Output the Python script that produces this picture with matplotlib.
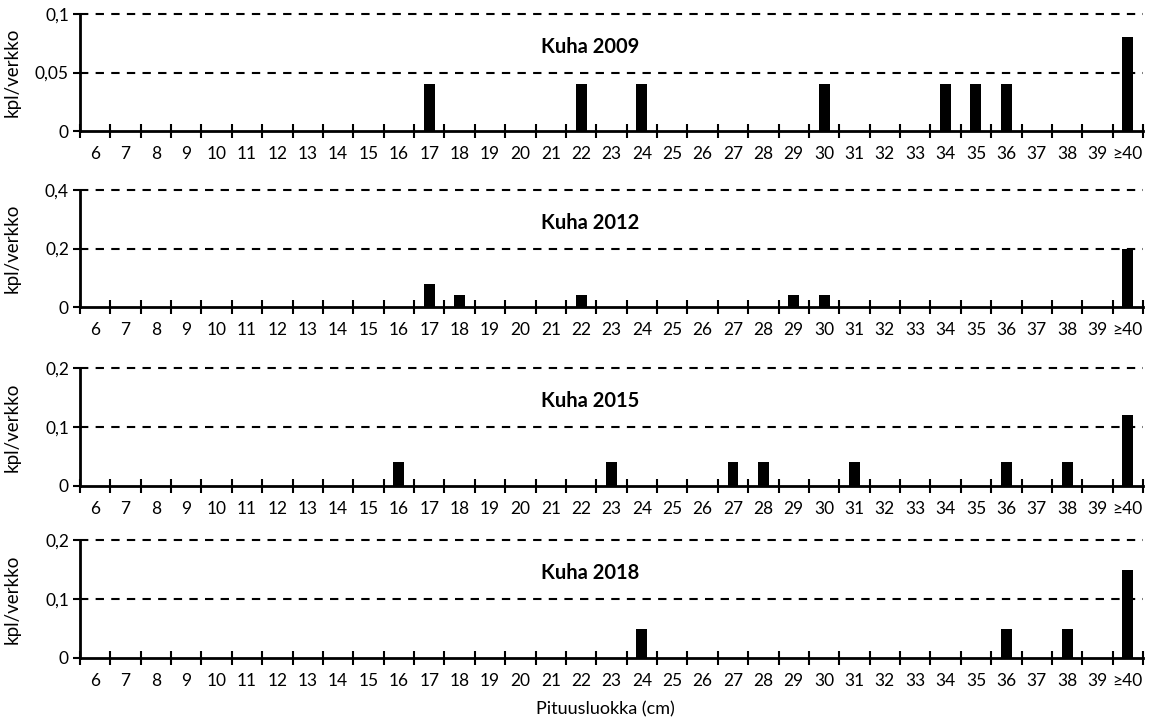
import matplotlib
matplotlib.use("Agg")
import matplotlib.pyplot as plt
import numpy as np

plt.rcParams["font.family"] = ["Lato", "DejaVu Sans"]

categories = [str(c) for c in range(6, 40)] + ["≥40"]

years = ["2009", "2012", "2015", "2018"]
# non-zero values per year, keyed by length class
values_2009 = {"17": 0.04, "22": 0.04, "24": 0.04, "30": 0.04, "34": 0.04,
               "35": 0.04, "36": 0.04, "≥40": 0.08}
values_2012 = {"17": 0.08, "18": 0.04, "22": 0.04, "29": 0.04, "30": 0.04,
               "≥40": 0.2}
values_2015 = {"16": 0.04, "23": 0.04, "27": 0.04, "28": 0.04, "31": 0.04,
               "36": 0.04, "38": 0.04, "≥40": 0.12}
values_2018 = {"24": 0.05, "36": 0.05, "38": 0.05, "≥40": 0.15}

y_max = [0.1, 0.4, 0.2, 0.2]
y_ticks = [[0, 0.05, 0.1], [0, 0.2, 0.4], [0, 0.1, 0.2], [0, 0.1, 0.2]]
y_ticklabels = [["0", "0,05", "0,1"], ["0", "0,2", "0,4"],
                ["0", "0,1", "0,2"], ["0", "0,1", "0,2"]]

all_values = [values_2009, values_2012, values_2015, values_2018]

# panel positions in pixels (top, bottom) on a 1150x722 canvas
panel_px = [(14, 131), (190, 307), (368, 486), (540, 658)]
W, H = 1150, 722
left_px, right_px = 80, 1143

fig = plt.figure(figsize=(W / 100, H / 100), dpi=100)
x = np.arange(len(categories))

for i, (year, vals) in enumerate(zip(years, all_values)):
    top, bottom = panel_px[i]
    ax = fig.add_axes([left_px / W, 1 - bottom / H,
                       (right_px - left_px) / W, (bottom - top) / H])
    heights = [vals.get(c, 0) for c in categories]
    ax.bar(x, heights, width=0.36, color="black", zorder=3)

    ax.set_xlim(-0.5, len(categories) - 0.5)
    ax.set_ylim(0, y_max[i])
    ax.set_yticks(y_ticks[i])
    ax.set_yticklabels(y_ticklabels[i])
    ax.set_xticks(x)
    ax.set_xticklabels(categories)
    ax.set_xticks(np.arange(-0.5, len(categories)), minor=True)
    ax.tick_params(axis="x", which="major", length=0, labelsize=12.5, pad=11)
    ax.tick_params(axis="x", which="minor", direction="inout", length=10,
                   width=1.5)
    ax.tick_params(axis="y", length=5, width=1.5, labelsize=12.5, pad=3)

    for s in ["top", "right"]:
        ax.spines[s].set_visible(False)
    for s in ["left", "bottom"]:
        ax.spines[s].set_linewidth(2)
        ax.spines[s].set_zorder(4)

    for yt in y_ticks[i][1:]:
        ax.axhline(yt, color="black", linestyle=(0, (4, 3.5)), linewidth=1.5,
                   zorder=1, clip_on=False)

    ax.set_ylabel("kpl/verkko", fontsize=13.5)
    ax.yaxis.set_label_coords(-0.056, 0.5)
    ax.text(0.48, 0.72, "Kuha " + year, transform=ax.transAxes,
            ha="center", va="center", fontsize=14.5, fontweight="bold")

fig.text(605 / W, 1 - 709 / H,
         "Pituusluokka (cm)", ha="center", va="center", fontsize=13)

fig.savefig("out.png", dpi=100)
